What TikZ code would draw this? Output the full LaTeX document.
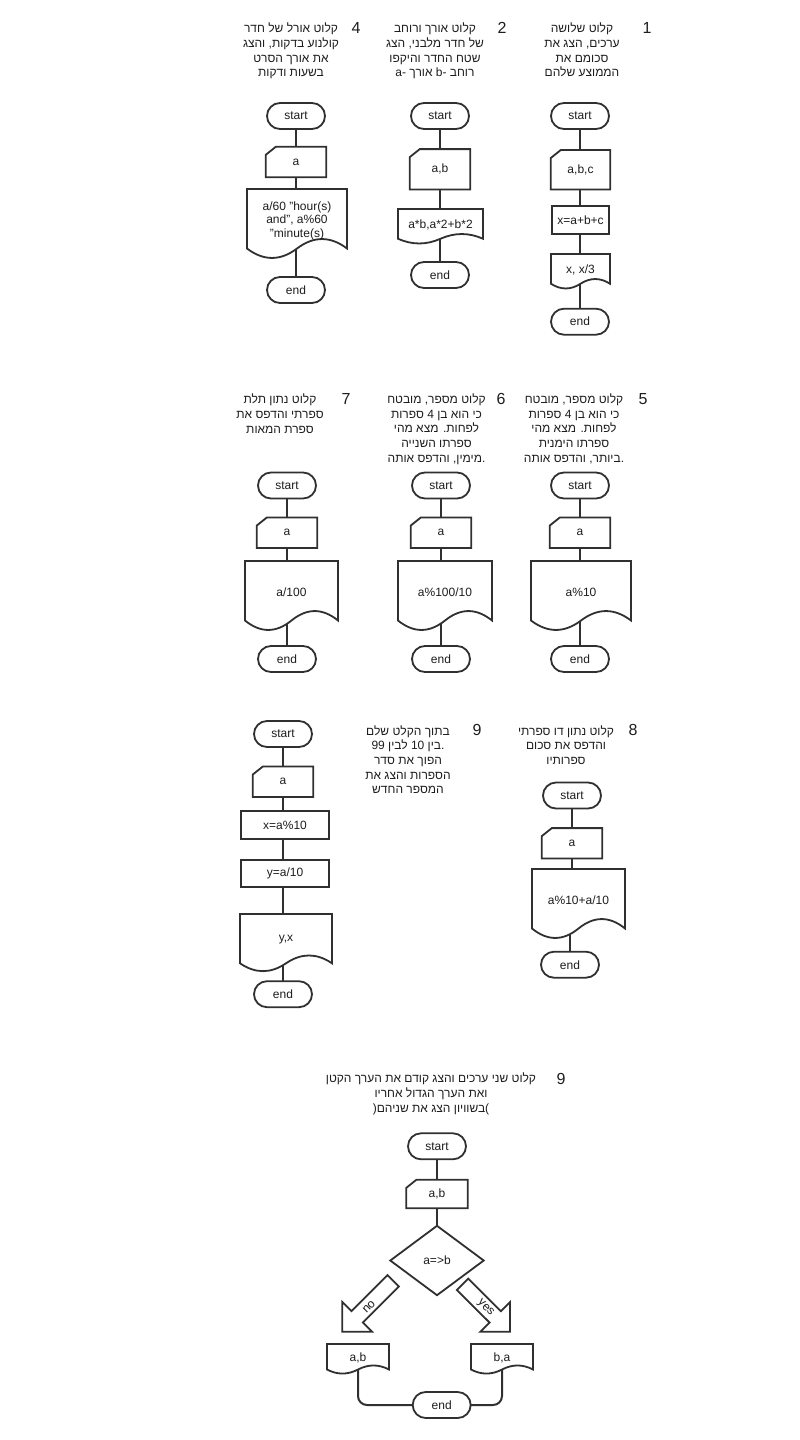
\documentclass[tikz,border=0pt]{standalone}
\usepackage{fontspec}
\setmainfont{Liberation Sans}
\newfontfamily\hebfont[Script=Hebrew]{Liberation Sans}
\TeXXeTstate=1
\pgfdeclarelayer{bg}
\pgfdeclarelayer{shp}
\pgfsetlayers{bg,shp,main}
\definecolor{ln}{HTML}{303030}
\definecolor{tx}{HTML}{1E1E1E}
\newcommand\rl[1]{\strut\beginR #1\endR\strut}
\newcommand\rlp[1]{\strut\beginR #1\endR.\strut}
\newcommand\lr[1]{\beginL #1\endL{}}
\newcommand\cardout[1]{\path[shapeline] ([yshift=-8pt]#1.north west) -- ([xshift=10pt]#1.north west) -- (#1.north east) -- (#1.south east) -- (#1.south west) -- cycle;}
\newcommand\docout[4]{\path[shapeline] (#1,#2) -- ({#1+#3},#2) -- ({#1+#3},{#2+0.85*#4}) .. controls ({#1+0.8333*#3},{#2+0.67*#4}) and ({#1+0.6667*#3},{#2+0.67*#4}) .. ({#1+0.5*#3},{#2+0.85*#4}) .. controls ({#1+0.3333*#3},{#2+1.03*#4}) and ({#1+0.1667*#3},{#2+1.03*#4}) .. (#1,{#2+0.85*#4}) -- cycle;}
\newcommand\diaout[1]{\path[shapeline] (#1.north) -- (#1.east) -- (#1.south) -- (#1.west) -- cycle;}
\tikzset{
  conn/.style={draw=ln, line width=2pt},
  shapeline/.style={draw=ln, line width=1.8pt, fill=white, line join=miter},
  term/.style={rectangle, rounded corners=13pt, draw=ln, line width=1.8pt, fill=white, minimum width=58pt, minimum height=26pt, inner sep=0pt, text=tx, font=\fontsize{12}{14}\selectfont},
  procbox/.style={rectangle, draw=ln, line width=1.8pt, fill=white, minimum height=28pt, inner sep=0pt, text=tx, font=\fontsize{12}{14}\selectfont},
  lbl/.style={inner sep=0pt, align=center, text=tx, font=\fontsize{12}{13.5}\selectfont},
  note/.style={inner sep=0pt, align=center, text=tx, font=\hebfont\fontsize{12}{14.7}\selectfont},
  num/.style={inner sep=0pt, text=tx, font=\fontsize{16}{18}\selectfont},
}
\begin{document}
\begin{tikzpicture}[x=1pt,y=-1pt]
\useasboundingbox (0,0) rectangle (800,1440);
% ---------- notes row 1
\node[note] (n4) at (291,52) {\rl{קלוט אורל של חדר}\\\rl{קולנוע בדקות, והצג}\\\rl{את אורך הסרט}\\\rl{בשעות ודקות}};
\node[num] (k4) at (356,27.5) {4};
\node[note] (n2) at (435,52) {\rl{קלוט אורך ורוחב}\\\rl{של חדר מלבני, הצג}\\\rl{שטח החדר והיקפו}\\\rl{רוחב \lr{b-} אורך \lr{a-}}};
\node[num] (k2) at (502,27.5) {2};
\node[note] (n1) at (582,52) {\rl{קלוט שלושה}\\\rl{ערכים, הצג את}\\\rl{סכומם את}\\\rl{הממוצע שלהם}};
\node[num] (k1) at (647,27.5) {1};
% ---------- diagram 4
\node[term] (s4) at (296,116) {start};
\node[lbl, minimum width=60pt, minimum height=30pt] (i4) at (296,162) {a};
\node[lbl] (o4) at (297,220.5) {a/60 "hour(s)\\and", a\%60\\ "minute(s)};
\node[term] (e4) at (296,290) {end};
% ---------- diagram 2
\node[term] (s2) at (440,116) {start};
\node[lbl, minimum width=60pt, minimum height=40pt] (i2) at (440,169.3) {a,b};
\node[lbl] (o2) at (440.5,225) {a*b,a*2+b*2};
\node[term] (e2) at (440,275) {end};
% ---------- diagram 1
\node[term] (s1) at (580,116) {start};
\node[lbl, minimum width=59pt, minimum height=39pt] (i1) at (580.5,169.7) {a,b,c};
\node[procbox, minimum width=57pt] (p1) at (580.5,220) {x=a+b+c};
\node[lbl] (o1) at (580.5,270) {x, x/3};
\node[term] (e1) at (580,321.7) {end};
% ---------- notes row 2
\node[note] (n7) at (280,415.5) {\rl{קלוט נתון תלת}\\\rl{ספרתי והדפס את}\\\rl{ספרת המאות}};
\node[num] (k7) at (346,399) {7};
\node[note] (n6) at (436.5,430) {\rl{קלוט מספר, מובטח}\\\rl{כי הוא בן \lr{4} ספרות}\\\rl{לפחות. מצא מהי}\\\rl{ספרתו השנייה}\\\rlp{מימין, והדפס אותה}};
\node[num] (k6) at (501,399) {6};
\node[note] (n5) at (574,430) {\rl{קלוט מספר, מובטח}\\\rl{כי הוא בן \lr{4} ספרות}\\\rl{לפחות. מצא מהי}\\\rl{ספרתו הימנית}\\\rlp{ביותר, והדפס אותה}};
\node[num] (k5) at (643,399) {5};
% ---------- diagram 7
\node[term] (s7) at (287,485.5) {start};
\node[lbl, minimum width=60pt, minimum height=30pt] (i7) at (287,532.7) {a};
\node[lbl] (o7) at (291.5,592.5) {a/100};
\node[term] (e7) at (287,659) {end};
% ---------- diagram 6
\node[term] (s6) at (441,485.5) {start};
\node[lbl, minimum width=60pt, minimum height=30pt] (i6) at (441,532.7) {a};
\node[lbl] (o6) at (445,592.5) {a\%100/10};
\node[term] (e6) at (441,659) {end};
% ---------- diagram 5
\node[term] (s5) at (580,485.5) {start};
\node[lbl, minimum width=60pt, minimum height=30pt] (i5) at (580,532.7) {a};
\node[lbl] (o5) at (581,592.5) {a\%10};
\node[term] (e5) at (580,659) {end};
% ---------- notes row 3
\node[note] (n9) at (408,761.5) {\rl{בתוך הקלט שלם}\\\rlp{בין \lr{10} לבין \lr{99}}\\\rl{הפוך את סדר}\\\rl{הספרות והצג את}\\\rl{המספר החדש}};
\node[num] (k9) at (477,729.5) {9};
\node[note] (n8) at (566,747) {\rl{קלוט נתון דו ספרתי}\\\rl{והדפס את סכום}\\\rl{ספרותיו}};
\node[num] (k8) at (633,729.5) {8};
% ---------- diagram 9 (left)
\node[term] (s9) at (283,734) {start};
\node[lbl, minimum width=60pt, minimum height=30pt] (i9) at (283,781.7) {a};
\node[procbox, minimum width=88pt] (p9a) at (285,825) {x=a\%10};
\node[procbox, minimum width=88pt, minimum height=27pt] (p9b) at (285,873.7) {y=a/10};
\node[lbl] (o9) at (286,940) {y,x};
\node[term] (e9) at (283,994.2) {end};
% ---------- diagram 8
\node[term] (s8) at (572,795.5) {start};
\node[lbl, minimum width=60pt, minimum height=30pt] (i8) at (572,843.3) {a};
\node[lbl] (o8) at (578.5,900.5) {a\%10+a/10};
\node[term] (e8) at (570,964.7) {end};
% ---------- bottom note
\node[note] (n10) at (431,1094.5) {\rl{קלוט שני ערכים והצג קודם את הערך הקטן}\\\rl{ואת הערך הגדול אחריו}\\\strut(\beginR בשוויון הצג את שניהם\endR)\strut};
\node[num] (k10) at (561,1079) {9};
% ---------- bottom diagram
\node[term] (s10) at (437,1146.3) {start};
\node[lbl, minimum width=61pt, minimum height=28pt] (i10) at (437,1194) {a,b};
\node[lbl, minimum width=93pt, minimum height=69pt] (d10) at (437,1260.5) {a=>b};
\node[lbl, rotate=45] (lno) at (369,1307) {no};
\node[lbl, rotate=-45] (lyes) at (485.5,1308) {yes};
\node[lbl] (oa) at (358,1357.5) {a,b};
\node[lbl] (ob) at (502,1357.5) {b,a};
\node[term] (e10) at (441.7,1405) {end};
% ---------- outlines
\begin{pgfonlayer}{shp}
\cardout{i4} \docout{247}{189}{100}{70}
\cardout{i2} \docout{398}{209}{85}{35}
\cardout{i1} \docout{551}{254}{59}{35}
\cardout{i7} \docout{245}{561}{93}{70}
\cardout{i6} \docout{398}{561}{94}{70}
\cardout{i5} \docout{531}{561}{100}{70}
\cardout{i9} \docout{240}{914}{92}{58}
\cardout{i8} \docout{532}{869}{93}{70}
\cardout{i10} \diaout{d10}
\docout{327}{1344}{62}{30}
\docout{471}{1344}{62}{30}
\path[shapeline] (342.3,1331.7) -- (342.3,1302) -- (351.5,1311.2) -- (387.5,1275.1) -- (398.9,1286.5) -- (362.8,1322.5) -- (372,1331.7) -- cycle;
\path[shapeline] (510,1331.7) -- (510,1302) -- (500.8,1311.2) -- (468.3,1278.6) -- (456.9,1290) -- (489.5,1322.5) -- (480.3,1331.7) -- cycle;
\end{pgfonlayer}
% ---------- connectors
\begin{pgfonlayer}{bg}
\fill[white] (0,0) rectangle (800,1440);
\draw[conn] (s4.center) -- (i4.center);
\draw[conn] (i4.center) -- (i4.center |- o4.center);
\draw[conn] (e4.center |- o4.center) -- (e4.center);
\draw[conn] (s2.center) -- (i2.center);
\draw[conn] (i2.center) -- (i2.center |- o2.center);
\draw[conn] (e2.center |- o2.center) -- (e2.center);
\draw[conn] (s1.center) -- (s1.center |- i1.center);
\draw[conn] (s1.center |- i1.center) -- (s1.center |- p1.center);
\draw[conn] (s1.center |- p1.center) -- (s1.center |- o1.center);
\draw[conn] (e1.center |- o1.center) -- (e1.center);
\draw[conn] (s7.center) -- (i7.center);
\draw[conn] (i7.center) -- (i7.center |- o7.center);
\draw[conn] (e7.center |- o7.center) -- (e7.center);
\draw[conn] (s6.center) -- (i6.center);
\draw[conn] (i6.center) -- (i6.center |- o6.center);
\draw[conn] (e6.center |- o6.center) -- (e6.center);
\draw[conn] (s5.center) -- (i5.center);
\draw[conn] (i5.center) -- (i5.center |- o5.center);
\draw[conn] (e5.center |- o5.center) -- (e5.center);
\draw[conn] (s9.center) -- (i9.center);
\draw[conn] (i9.center) -- (i9.center |- p9a.center);
\draw[conn] (i9.center |- p9a.center) -- (i9.center |- p9b.center);
\draw[conn] (i9.center |- p9b.center) -- (i9.center |- o9.center);
\draw[conn] (e9.center |- o9.center) -- (e9.center);
\draw[conn] (s8.center) -- (i8.center);
\draw[conn] (i8.center) -- (i8.center |- o8.center);
\draw[conn] (e8.center |- o8.center) -- (e8.center);
\draw[conn] (s10.center) -- (i10.center);
\draw[conn] (i10.center) -- (d10.center);
\draw[conn, rounded corners=9pt] (oa.center) |- (e10.center);
\draw[conn, rounded corners=9pt] (ob.center) |- (e10.center);
\end{pgfonlayer}
\end{tikzpicture}
\end{document}
